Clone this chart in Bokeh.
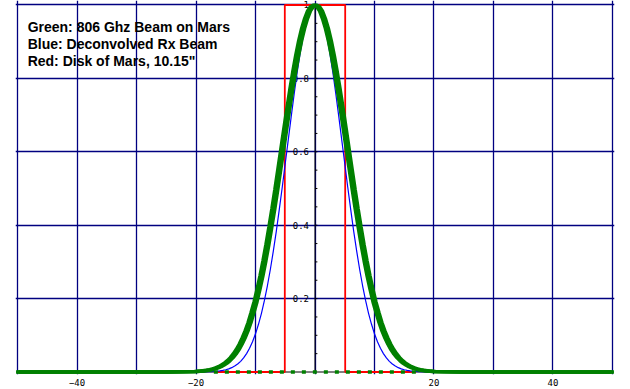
from bokeh.plotting import figure
from bokeh.models import Range1d, FixedTicker, Grid, Label
from bokeh.core.properties import value
from bokeh.embed import file_html
from bokeh.resources import INLINE

# ---- data ----
offsets = [0, 0.5, 1, 1.5, 2, 2.5, 3, 3.5, 4, 4.5, 5, 5.5, 6, 6.5, 7, 7.5, 8, 8.5,
           9, 9.5, 10, 10.5, 11, 11.5, 12, 12.5, 13, 13.5, 14, 14.5, 15, 15.5, 16,
           16.5, 17, 17.5, 18, 19, 20, 25, 50]
green_beam = [1.000, 0.996, 0.984, 0.963, 0.936, 0.902, 0.862, 0.817, 0.768, 0.716,
              0.662, 0.607, 0.552, 0.497, 0.445, 0.395, 0.347, 0.303, 0.262, 0.225,
              0.191, 0.162, 0.135, 0.112, 0.0926, 0.0756, 0.0612, 0.0492, 0.0392,
              0.0310, 0.0243, 0.0189, 0.0145, 0.0111, 0.0084, 0.0063, 0.0047, 0.0026,
              0.0013, 0.0, 0.0]
blue_beam = [1.000, 0.994, 0.978, 0.950, 0.913, 0.868, 0.816, 0.758, 0.696, 0.632,
             0.568, 0.504, 0.443, 0.384, 0.330, 0.280, 0.235, 0.195, 0.160, 0.130,
             0.104, 0.0825, 0.0646, 0.0501, 0.0384, 0.0291, 0.0218, 0.0162, 0.0118,
             0.0086, 0.0061, 0.0045, 0.0030, 0.0021, 0.0014, 0.0010, 0.0007, 0.0003,
             0.0001, 0.0, 0.0]
disk_x = [-17, -5.075, -5.075, 5.075, 5.075, 17]
disk_y = [0, 0, 1, 1, 0, 0]
dots_x = [-17, 17]
dots_y = [0, 0]
x_grid_ticks = [-50, -40, -30, -20, -10, 0, 10, 20, 30, 40, 50]
y_grid_ticks = [0.2, 0.4, 0.6, 0.8, 1.0]
x_tick_labels = [-40, -20, 20, 40]
y_label_vals = [1.0, 0.8, 0.6, 0.4, 0.2]
y_label_texts = ["1", "0.8", "0.6", "0.4", "0.2"]
y_minor_ticks = [0.05, 0.1, 0.15, 0.2, 0.25, 0.3, 0.35, 0.4, 0.45, 0.5, 0.55, 0.6,
                 0.65, 0.7, 0.75, 0.8, 0.85, 0.9, 0.95]
legend_lines = ["Green: 806 Ghz Beam on Mars", "Blue: Deconvolved Rx Beam",
                "Red: Disk of Mars, 10.15\""]

# mirror the symmetric half-profiles
full_x = [-o for o in reversed(offsets[1:])] + offsets
green_full = list(reversed(green_beam[1:])) + green_beam
blue_full = list(reversed(blue_beam[1:])) + blue_beam

NAVY = "#000080"
GREEN = "#008000"

p = figure(width=630, height=389,
           x_range=Range1d(-50.34, 50.34), y_range=Range1d(-0.0068, 1.01226),
           output_backend="svg", toolbar_location=None, y_axis_location=None,
           min_border_left=15, min_border_right=16, min_border_top=0,
           min_border_bottom=15, outline_line_color=None,
           background_fill_color="white", border_fill_color="white")
p.styles = {"position": "absolute", "left": "0px", "top": "0px"}

p.grid.grid_line_color = None
p.add_layout(Grid(dimension=0, ticker=FixedTicker(ticks=x_grid_ticks), bounds=(0, 1),
                  grid_line_color=NAVY, grid_line_width=1.3))
p.add_layout(Grid(dimension=1, ticker=FixedTicker(ticks=y_grid_ticks), bounds=(-50, 50),
                  grid_line_color=NAVY, grid_line_width=1.3))

ax = p.xaxis[0]
ax.ticker = FixedTicker(ticks=x_tick_labels)
ax.axis_line_color = None
ax.major_tick_line_color = None
ax.minor_tick_line_color = None
ax.major_tick_out = 0
ax.major_label_standoff = 4
ax.major_label_text_font = "DejaVu Sans Mono"
ax.major_label_text_font_size = "9px"
ax.major_label_text_color = "black"

# y labels (beneath curves)
p.text(x=[0] * len(y_label_vals), y=y_label_vals, text=y_label_texts, x_offset=-6,
       text_align="right", text_baseline="middle",
       text_font=value("DejaVu Sans Mono"), text_font_size="9px", text_color="black")

# black axes through origin
p.segment(x0=[-50, 0], y0=[0, 0], x1=[50, 0], y1=[0, 1], line_color="black", line_width=1)
p.segment(x0=[0] * len(y_minor_ticks), y0=y_minor_ticks, x1=[0.4] * len(y_minor_ticks),
          y1=y_minor_ticks, line_color="black", line_width=1)

# red disk
p.line(disk_x, disk_y, line_color="#ff0000", line_width=1.8)

# blue deconvolved beam
p.line(full_x, blue_full, line_color="#0000ff", line_width=1.2)

# green beam (thick, horizontally stretched pen)
for dx in (-0.25, 0.0, 0.25):
    p.line([x + dx for x in full_x], green_full, line_color=GREEN, line_width=3.5)

# green dotted baseline
p.line(dots_x, dots_y, line_color=GREEN, line_width=3.5, line_dash="4 7")

for i, txt in enumerate(legend_lines):
    p.add_layout(Label(x=-48.3, y=0.9387 - i * 0.0463, text=txt,
                       text_font="Liberation Sans", text_font_size="14px",
                       text_font_style="bold", text_color="black",
                       text_baseline="alphabetic"))

open("out.html", "w").write(file_html(p, INLINE))
